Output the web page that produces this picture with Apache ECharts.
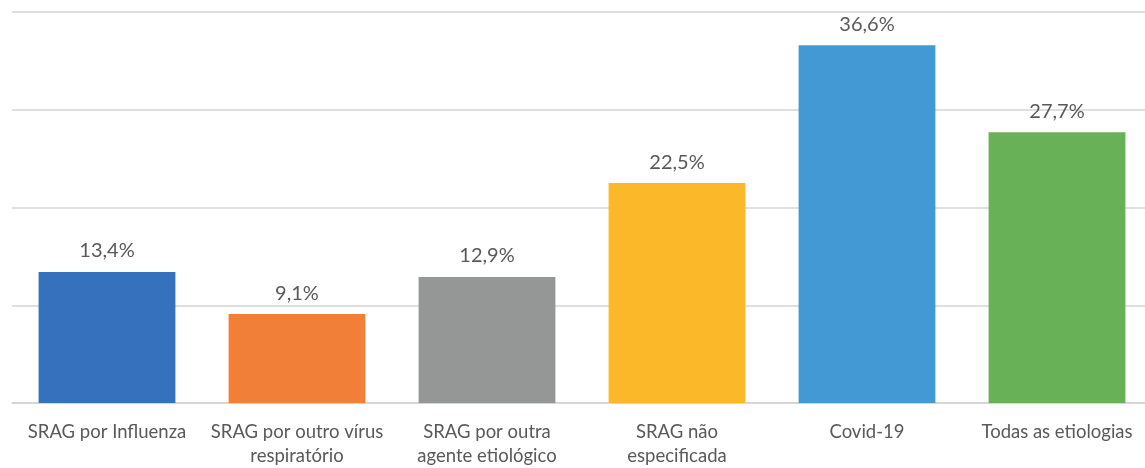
<!DOCTYPE html>
<html>
<head>
<meta charset="utf-8">
<script src="https://cdn.jsdelivr.net/npm/echarts@6/dist/echarts.min.js"></script>
<style>
  html, body { margin: 0; padding: 0; background: #fff; overflow: hidden; }
  #chart { width: 1152px; height: 468px; }
</style>
</head>
<body>
<div id="chart"></div>
<script>
const categories = ['SRAG por Influenza', 'SRAG por outro vírus\nrespiratório', 'SRAG por outra\nagente etiológico', 'SRAG não\nespecificada', 'Covid-19', 'Todas as etiologias'];
const values = [13.4, 9.1, 12.9, 22.5, 36.6, 27.7];
const colors = ['#3671bd', '#f27f38', '#959696', '#fbb829', '#4399d3', '#68b156'];
const yTicks = [0, 10, 20, 30, 40];

const chart = echarts.init(document.getElementById('chart'));
chart.setOption({
  animation: false,
  grid: { left: 12, right: 0, top: 12, bottom: 60 },
  xAxis: {
    type: 'category',
    data: categories,
    axisTick: { show: false },
    axisLine: { lineStyle: { color: '#d4d4d4', width: 1.5 } },
    axisLabel: {
      color: '#595959',
      fontFamily: 'Lato',
      fontSize: 18.5,
      lineHeight: 24,
      margin: 17,
      interval: 0
    }
  },
  yAxis: {
    type: 'value',
    min: yTicks[0],
    max: yTicks[yTicks.length - 1],
    interval: 10,
    axisLabel: { show: false },
    axisLine: { show: false },
    axisTick: { show: false },
    splitLine: { lineStyle: { color: '#d4d4d4', width: 1.5 } }
  },
  series: [{
    type: 'bar',
    barCategoryGap: '28%',
    data: values.map((v, i) => ({ value: v, itemStyle: { color: colors[i] } })),
    label: {
      show: true,
      position: 'top',
      distance: 11,
      color: '#595959',
      fontFamily: 'Lato',
      fontSize: 20,
      formatter: p => p.value.toFixed(1).replace('.', ',') + '%'
    }
  }]
});
</script>
</body>
</html>
